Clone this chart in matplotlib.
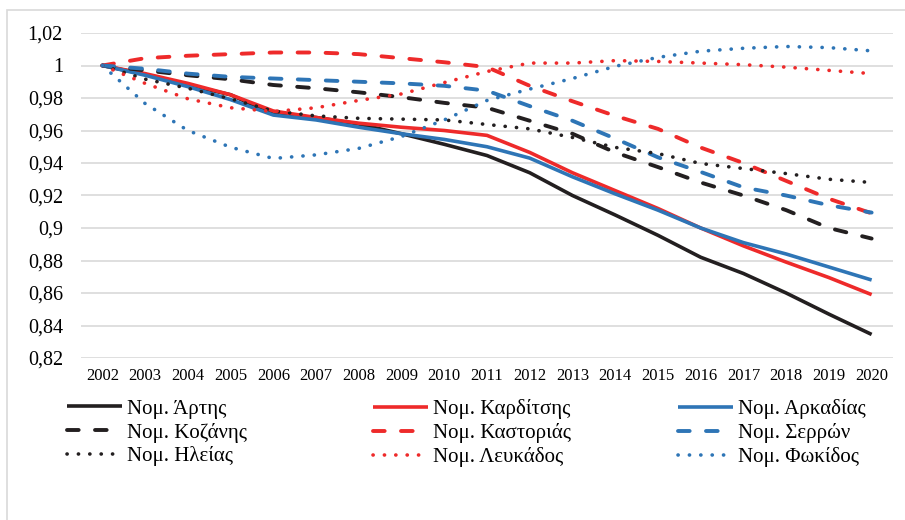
import matplotlib.pyplot as plt
from matplotlib.patches import Rectangle

plt.rcParams['font.family'] = ['Liberation Serif', 'DejaVu Serif']

years = [str(y) for y in range(2002, 2021)]

# values
artis = [1.0, 0.9945, 0.988, 0.982, 0.970, 0.968, 0.964, 0.958, 0.9515, 0.9446,
         0.934, 0.920, 0.908, 0.8955, 0.882, 0.872, 0.860, 0.847, 0.8345]
karditsa = [1.0, 0.995, 0.989, 0.982, 0.972, 0.968, 0.9645, 0.962, 0.960, 0.957,
            0.9465, 0.934, 0.923, 0.912, 0.900, 0.889, 0.879, 0.8695, 0.859]
arkadia = [1.0, 0.994, 0.987, 0.979, 0.9695, 0.9665, 0.962, 0.958, 0.9545, 0.950,
           0.943, 0.9315, 0.921, 0.911, 0.900, 0.891, 0.884, 0.876, 0.868]
kozani = [1.0, 0.997, 0.994, 0.9915, 0.988, 0.986, 0.9835, 0.9805, 0.977, 0.974,
          0.966, 0.958, 0.9465, 0.9375, 0.928, 0.920, 0.911, 0.900, 0.8935]
kastoria = [1.0, 1.0045, 1.006, 1.007, 1.008, 1.008, 1.007, 1.0045, 1.002, 0.999,
            0.9875, 0.978, 0.969, 0.961, 0.9495, 0.940, 0.929, 0.918, 0.909]
serres = [1.0, 0.998, 0.995, 0.993, 0.992, 0.991, 0.990, 0.989, 0.9875, 0.9845,
          0.975, 0.966, 0.955, 0.9435, 0.9345, 0.925, 0.920, 0.914, 0.9095]
ilia = [1.0, 0.9916, 0.986, 0.9795, 0.972, 0.969, 0.9675, 0.967, 0.9665, 0.9637,
        0.961, 0.9557, 0.9496, 0.9458, 0.9397, 0.9366, 0.9335, 0.930, 0.928]
lefkada = [1.0, 0.989, 0.9795, 0.974, 0.9717, 0.974, 0.9785, 0.9825, 0.9895, 0.9963,
           1.0015, 1.0015, 1.003, 1.0025, 1.0015, 1.0005, 0.999, 0.997, 0.995]
fokida = [1.0, 0.9766, 0.960, 0.9497, 0.9428, 0.945, 0.949, 0.9563, 0.9665, 0.9785,
          0.9855, 0.992, 0.9995, 1.005, 1.0088, 1.0106, 1.0117, 1.011, 1.009]

labels = ['Νομ. Άρτης', 'Νομ. Καρδίτσης', 'Νομ. Αρκαδίας',
          'Νομ. Κοζάνης', 'Νομ. Καστοριάς', 'Νομ. Σερρών',
          'Νομ. Ηλείας', 'Νομ. Λευκάδος', 'Νομ. Φωκίδος']
series = [artis, karditsa, arkadia, kozani, kastoria, serres, ilia, lefkada, fokida]

yticks = [0.82, 0.84, 0.86, 0.88, 0.90, 0.92, 0.94, 0.96, 0.98, 1.00, 1.02]
ytick_labels = ['0,82', '0,84', '0,86', '0,88', '0,9', '0,92', '0,94', '0,96', '0,98', '1', '1,02']

black = '#231f20'
red = '#ee2a2a'
blue = '#2e75b6'
colors = [black, red, blue] * 3
solid = '-'
dashed = (0, (3, 4.2))
dotted = (0, (0.05, 3.1))
styles = [solid] * 3 + [dashed] * 3 + [dotted] * 3
widths = [2.6] * 3 + [2.8] * 3 + [2.6] * 3

fig = plt.figure(figsize=(9.05, 5.2), dpi=100)
ax = fig.add_axes([81 / 905, 1 - 358 / 520, 812 / 905, 325 / 520])

x = list(range(len(years)))
handles = []
for vals, lab, c, ls, lw in zip(series, labels, colors, styles, widths):
    ln, = ax.plot(x, vals, color=c, linestyle=ls, linewidth=lw,
                  dash_capstyle='round', solid_capstyle='butt', label=lab)
    handles.append(ln)

ax.set_xlim(-0.5, len(years) - 0.5)
ax.set_ylim(0.82, 1.02)
ax.set_xticks(x)
ax.set_xticklabels(years, fontsize=12)
ax.set_yticks(yticks)
ax.set_yticklabels(ytick_labels, fontsize=14.5)
ax.tick_params(axis='x', length=0, pad=7)
ax.tick_params(axis='y', length=0, pad=13)
ax.grid(axis='y', color='#d9d9d9', linewidth=1.2)
ax.set_axisbelow(True)
for s in ax.spines.values():
    s.set_visible(False)

# legend: three columns placed separately so they line up like the original
col_x = [67 / 905, 373 / 905, 678 / 905]
for ci in range(3):
    hs = [handles[ci + 3 * r] for r in range(3)]
    fig.legend(hs, [labels[ci + 3 * r] for r in range(3)],
               loc='upper left', bbox_to_anchor=(col_x[ci], 1 - 399 / 520),
               frameon=False, fontsize=15, handlelength=2.64,
               handletextpad=0.24, labelspacing=0.19, borderpad=0,
               borderaxespad=0)

fig.patches.append(Rectangle((7 / 905, -0.02), 1.0, 1 - 10 / 520 + 0.02,
                             transform=fig.transFigure, fill=False,
                             edgecolor='#d9d9d9', linewidth=1.2))

fig.savefig('out.png', dpi=100, facecolor='white')
